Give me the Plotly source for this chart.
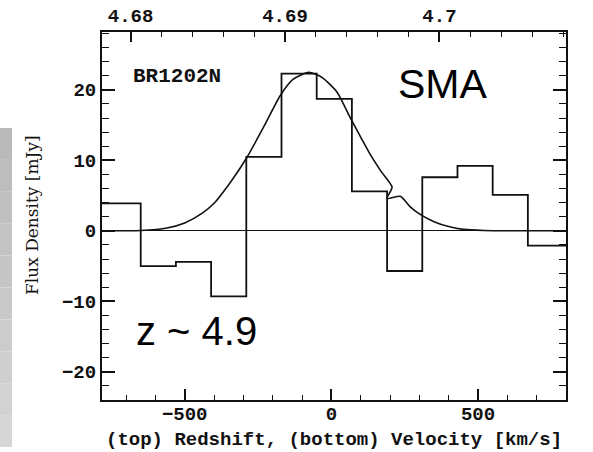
import plotly.graph_objects as go

# ---- data ----
bin_centers = [-710, -590, -470, -350, -230, -110, 10, 130, 250, 370, 490, 610, 730]
bin_width = 120
flux = [3.9, -5.0, -4.4, -9.3, 10.5, 22.3, 18.7, 5.6, -5.7, 7.6, 9.2, 5.1, -2.1]

fit_v = [-800, -650, -560, -500, -440, -400, -344, -288, -230, -174, -130, -77,
         -30, 19, 65, 100, 133, 170, 207, 190, 235, 269, 300, 350, 400, 450, 520, 800]
fit_f = [0.0, 0.05, 0.4, 1.1, 2.5, 3.9, 6.9, 10.4, 14.8, 19.2, 21.5, 22.5,
         21.7, 19.7, 16.0, 13.3, 10.8, 8.4, 6.2, 4.6, 4.9, 3.4, 2.4, 1.3, 0.6, 0.2, 0.05, 0.0]

z_ticks = [4.68, 4.69, 4.70]
z_labels = ["4.68", "4.69", "4.7"]
v_ticks = [-500, 0, 500]
y_ticks = [-20, -10, 0, 10, 20]

z0 = 4.693
c_kms = 299792.458
v_range = [-782, 800]
y_range = [-24.0, 28.2]

# ---- layout geometry ----
W, H = 593, 452
L, R, T, B = 102, 27, 32, 52
pw, ph = W - L - R, H - T - B


def px_x(p):
    return (p - L) / pw


def px_y(p):
    return (H - B - p) / ph


# step outline edges (outer bins run to the frame)
edges = [v_range[0] - 20] + [c - bin_width / 2 for c in bin_centers[1:]]
step_x = edges + [v_range[1] + 20]
step_y = flux + [flux[-1]]

z_range = [z0 + (1 + z0) * v / c_kms for v in v_range]

serif = "DejaVu Serif"
mono = "Liberation Mono"

fig = go.Figure()
fig.add_trace(go.Scatter(x=step_x, y=step_y, mode="lines", line_shape="hv",
                         line=dict(color="#111", width=1.8), showlegend=False))
fig.add_trace(go.Scatter(x=fit_v, y=fit_f, mode="lines", line_shape="spline",
                         line=dict(color="#111", width=1.6, smoothing=0.6),
                         showlegend=False))
fig.add_trace(go.Scatter(x=z_range, y=[0, 0], xaxis="x2", mode="lines",
                         line=dict(width=0), hoverinfo="skip", showlegend=False))

tickfont = dict(family=mono, size=19, color="#111", weight="bold")

fig.update_layout(
    width=W, height=H,
    margin=dict(l=L, r=R, t=T, b=B),
    paper_bgcolor="white", plot_bgcolor="white",
    xaxis=dict(range=v_range, tickvals=v_ticks, automargin=False,
               ticktext=["\u2212500", "0", "500"], ticklabelstandoff=-5,
               ticks="inside", ticklen=11, tickwidth=1.5, tickcolor="#111",
               minor=dict(dtick=100, ticks="inside", ticklen=5, tickwidth=1.3,
                          tickcolor="#111", showgrid=False),
               showline=True, linecolor="#111", linewidth=2, mirror=False,
               showgrid=False, zeroline=False, tickfont=tickfont),
    xaxis2=dict(range=z_range, overlaying="x", side="top", anchor="y",
                automargin=False,
                tickvals=z_ticks, ticktext=z_labels,
                ticks="inside", ticklen=10, tickwidth=1.5, tickcolor="#111",
                minor=dict(dtick=0.002, tick0=4.68, ticks="inside", ticklen=5,
                           tickwidth=1.3, tickcolor="#111", showgrid=False),
                showline=True, linecolor="#111", linewidth=2,
                showgrid=False, zeroline=False, tickfont=tickfont),
    yaxis=dict(range=y_range, tickvals=y_ticks, automargin=False,
               ticktext=["\u221220", "\u221210", "0", "10", "20"],
               ticks="inside", ticklen=13, tickwidth=1.5, tickcolor="#111",
               minor=dict(dtick=2, ticks="inside", ticklen=7, tickwidth=1.3,
                          tickcolor="#111", showgrid=False),
               showline=True, linecolor="#111", linewidth=2, mirror="ticks",
               showgrid=False, zeroline=True, zerolinecolor="#111",
               zerolinewidth=1.2, tickfont=tickfont),
)

# grey side bar (gradient made of bands)
n_bands = 10
top_px, bot_px = 128, 447
for i in range(n_bands):
    y0p = top_px + (bot_px - top_px) * i / n_bands
    y1p = top_px + (bot_px - top_px) * (i + 1) / n_bands
    g = int(186 + (214 - 186) * i / (n_bands - 1))
    fig.add_shape(type="rect", xref="paper", yref="paper",
                  x0=px_x(0), x1=px_x(12), y0=px_y(y1p), y1=px_y(y0p),
                  fillcolor=f"rgb({g},{g},{g})", line=dict(width=0), layer="below")

# axis titles
fig.add_annotation(text="(top) Redshift, (bottom) Velocity [km/s]",
                   xref="paper", yref="paper", x=px_x(334), y=px_y(440),
                   showarrow=False, xanchor="center", yanchor="middle",
                   font=dict(family=mono, size=19, color="#111", weight="bold"))
fig.add_annotation(text="Flux Density [mJy]", textangle=-90,
                   xref="paper", yref="paper", x=px_x(32), y=px_y(215),
                   showarrow=False, xanchor="center", yanchor="middle",
                   font=dict(family=serif, size=17, color="#111"))

fig.add_annotation(text="BR1202N", xref="paper", yref="paper",
                   x=px_x(177), y=px_y(76), showarrow=False,
                   xanchor="center", yanchor="middle",
                   font=dict(family=mono, size=21, color="#111", weight="bold"))
fig.add_annotation(text="SMA", xref="paper", yref="paper",
                   x=px_x(443), y=px_y(84), showarrow=False,
                   xanchor="center", yanchor="middle",
                   font=dict(family="Liberation Sans", size=41, color="black"))
fig.add_annotation(text="z ~ 4.9", xref="paper", yref="paper",
                   x=px_x(196), y=px_y(331), showarrow=False,
                   xanchor="center", yanchor="middle",
                   font=dict(family="Liberation Sans", size=40, color="black"))

fig.write_html("out.html")
